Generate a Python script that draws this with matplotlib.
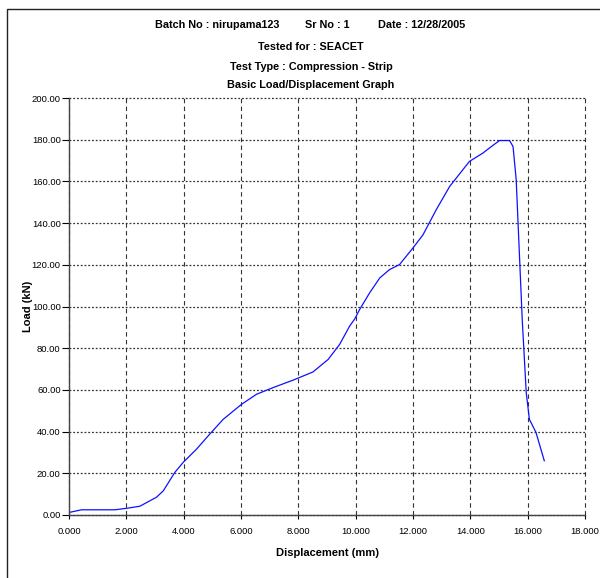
import matplotlib
matplotlib.use('Agg')
import matplotlib.pyplot as plt
from matplotlib.patches import Rectangle

# displacement (mm) / load (kN)
disp = [0.0, 0.03, 0.44, 1.0, 1.6, 2.0, 2.47, 3.05, 3.29, 3.69, 3.98, 4.45, 4.91,
        5.38, 6.02, 6.54, 7.12, 7.82, 8.51, 9.04, 9.44, 9.79, 9.97, 10.14, 10.49,
        10.84, 11.18, 11.53, 12.0, 12.35, 12.81, 13.28, 13.97, 14.44, 14.73,
        15.02, 15.37, 15.49, 15.60, 15.71, 15.81, 15.95, 16.06, 16.29, 16.58]
load = [1.0, 1.3, 2.5, 2.5, 2.5, 3.2, 4.2, 8.5, 11.6, 20.4, 25.2, 31.6, 38.8,
        45.9, 53.1, 57.9, 61.1, 64.7, 68.6, 74.6, 81.8, 90.6, 94.1, 98.6, 106.6,
        113.7, 117.7, 120.1, 128.1, 134.4, 146.4, 157.6, 169.6, 173.6, 176.7,
        179.6, 179.6, 176.7, 160.8, 125.7, 93.8, 58.7, 45.9, 39.6, 26.0]

x_ticks = [0, 2, 4, 6, 8, 10, 12, 14, 16, 18]
y_ticks = [0, 20, 40, 60, 80, 100, 120, 140, 160, 180, 200]

header = ['Batch No : nirupama123', 'Sr No : 1', 'Date : 12/28/2005']
title_lines = ['Tested for : SEACET', 'Test Type : Compression - Strip',
               'Basic Load/Displacement Graph']

plt.rcParams['font.family'] = ['Liberation Sans Narrow', 'Liberation Sans', 'DejaVu Sans']

W, H = 600, 578
fig = plt.figure(figsize=(W / 100, H / 100), dpi=100)
fig.patches.append(Rectangle((7 / W, -0.1), 1.2, 1.1 - 9 / H,
                             transform=fig.transFigure, fill=False,
                             edgecolor='#222222', lw=1.0))

ax = fig.add_axes([69 / W, 1 - 515 / H, (585 - 69) / W, (515 - 98) / H])
ax.plot(disp, load, color='#1010ff', lw=0.9)

ax.set_xlim(0, 18)
ax.set_ylim(0, 200)
ax.set_xticks(x_ticks)
ax.set_yticks(y_ticks)
ax.set_xticklabels(['%.3f' % v for v in x_ticks], fontsize=6.8)
ax.set_yticklabels(['%.2f' % v for v in y_ticks], fontsize=6.8)
ax.tick_params(axis='y', length=5, width=0.8, pad=1)
ax.tick_params(axis='x', length=3, width=0.8, pad=6)

ax.xaxis.grid(True, color='#333333', ls=(0, (4, 3)), lw=0.8)
ax.yaxis.grid(True, color='#333333', ls=(0, (1.5, 1.5)), lw=0.9)
for gl in ax.get_xgridlines() + ax.get_ygridlines():
    gl.set_clip_on(False)
for side in ['top', 'right']:
    ax.spines[side].set_visible(False)
for side in ['left', 'bottom']:
    ax.spines[side].set_color('#444444')
    ax.spines[side].set_linewidth(1.0)

ax.set_xlabel('Displacement (mm)', fontsize=8, fontweight='bold', labelpad=8)
ax.set_ylabel('Load (kN)', fontsize=8, fontweight='bold')
ax.yaxis.set_label_coords((33 - 69) / 516, 0.5)

hx = [217, 327, 422]
for t, px in zip(header, hx):
    fig.text(px / W, 1 - 25 / H, t, ha='center', va='center', fontsize=7.8,
             fontweight='bold')
for t, py in zip(title_lines, [46.5, 66.5, 85]):
    fig.text(311 / W, 1 - py / H, t, ha='center', va='center', fontsize=7.8,
             fontweight='bold')

fig.savefig('out.png', dpi=100)
